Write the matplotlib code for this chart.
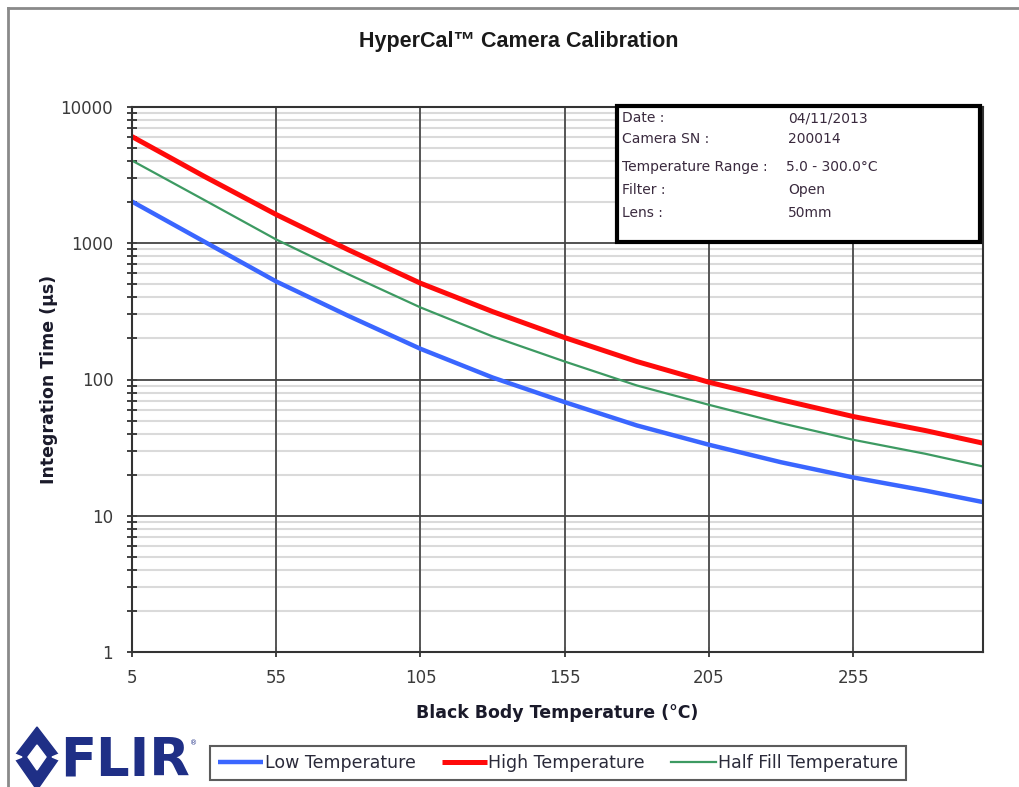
import matplotlib.pyplot as plt
from matplotlib.patches import Polygon, Rectangle
from matplotlib.ticker import LogLocator, FixedLocator, NullFormatter

# black body temperature (deg C)
temp = [5, 30, 55, 80, 105, 130, 155, 180, 205, 230, 255, 280, 300]

# integration time (us) per fill level
low_t = [2023, 1029, 524, 293, 168, 103.4, 68.2, 46, 33.2, 24.7, 19.1, 15.3, 12.6]
high_t = [6067, 3100, 1624, 895, 509, 315, 203, 135.5, 95.5, 71, 53.5, 42.2, 34.1]
half_t = [4045, 2080, 1065, 592, 338, 207, 135.5, 90.4, 65.2, 47.8, 36.1, 28.5, 23.0]

x_ticks = [5, 55, 105, 155, 205, 255]
y_ticks = [1, 10, 100, 1000, 10000]

info_keys = ["Date :", "Camera SN :", "Temperature Range :", "Filter :", "Lens :"]
info_vals = ["04/11/2013", "200014", "5.0 - 300.0°C", "Open", "50mm"]

W, H = 1020, 787
fig = plt.figure(figsize=(W / 100, H / 100), dpi=100)
fig.patch.set_facecolor("white")

ax = fig.add_axes([132 / W, 1 - 652 / H, (983 - 132) / W, (652 - 107) / H])
ax.set_yscale("log")
ax.set_xlim(5, 300)
ax.set_ylim(1, 10000)

l1, = ax.plot(temp, low_t, color="#3a66ff", lw=3.2, solid_capstyle="butt", zorder=3)
l2, = ax.plot(temp, high_t, color="#ff0a0a", lw=3.6, solid_capstyle="butt", zorder=3)
l3, = ax.plot(temp, half_t, color="#3d9a62", lw=1.6, zorder=3)

ax.xaxis.set_major_locator(FixedLocator(x_ticks))
ax.set_xticklabels([str(v) for v in x_ticks])
ax.yaxis.set_major_locator(FixedLocator(y_ticks))
ax.set_yticklabels([str(v) for v in y_ticks])
ax.yaxis.set_minor_locator(LogLocator(base=10, subs=range(2, 10)))
ax.yaxis.set_minor_formatter(NullFormatter())

# light minor lines underneath, major grid drawn on top of them
ax.grid(True, which="minor", axis="y", color="#dadada", lw=1.5, zorder=0)
for xv in x_ticks[1:]:
    ax.axvline(xv, color="#555555", lw=1.4, zorder=1.5)
for yv in y_ticks[1:]:
    ax.axhline(yv, color="#444444", lw=1.3, zorder=1.6)
ax.set_axisbelow(True)

ax.tick_params(axis="both", which="both", direction="inout", color="#222222")
ax.tick_params(axis="y", which="major", length=7, width=1.2, pad=10,
               labelsize=12, labelcolor="#3a3a3a")
ax.tick_params(axis="y", which="minor", length=7, width=1.2)
ax.tick_params(axis="x", which="major", length=7, width=1.2, pad=9,
               labelsize=12, labelcolor="#3a3a3a")
for s in ax.spines.values():
    s.set_color("#333333")
    s.set_linewidth(1.5)
    s.set_zorder(4)

ax.set_xlabel("Black Body Temperature (°C)", fontsize=12.5, fontweight="bold",
              color="#1a1a2a", labelpad=12)
ax.set_ylabel("Integration Time (μs)", fontsize=12.5, fontweight="bold",
              color="#1a1a2a", labelpad=2)

fig.text(519 / W, 1 - 42 / H, "HyperCal™ Camera Calibration", ha="center", va="center",
         fontsize=15.5, fontweight="bold", color="#1a1a1a", family="Liberation Sans")

# overlay in pixel coordinates for frame, info box and logo
ov = fig.add_axes([0, 0, 1, 1], facecolor="none")
ov.set_xlim(0, W)
ov.set_ylim(H, 0)
ov.axis("off")

ov.plot([8, 8], [8, H], color="#8a8a8a", lw=2)
ov.plot([8, W], [8, 8], color="#8a8a8a", lw=2)

ov.add_patch(Rectangle((617, 106), 363, 136, facecolor="white", edgecolor="black", lw=3, zorder=5))
rows_y = [118, 139, 167, 190, 213]
for k, v, yy in zip(info_keys, info_vals, rows_y):
    ov.text(622, yy, k, fontsize=10, color="#3a2a3e", va="center", zorder=6)
    vx = 786 if k.startswith("Temp") else 788
    ov.text(vx, yy, v, fontsize=10, color="#3a2a3e", va="center", zorder=6)

# FLIR logo
navy = "#1f2f86"
ov.add_patch(Polygon([(37, 727), (60, 757), (37, 790), (14, 757)], closed=True, color=navy))
ov.add_patch(Polygon([(37, 745), (46, 757), (37, 770), (28, 757)], closed=True, color="white"))
ov.add_patch(Polygon([(10, 752), (22, 757), (10, 762)], closed=True, color="white"))
ov.add_patch(Polygon([(64, 752), (52, 757), (64, 762)], closed=True, color="white"))
ov.text(60, 760, "FLIR", fontsize=38, fontweight="heavy", color=navy, va="center", ha="left")
ov.text(190, 743, "®", fontsize=5, color=navy, va="center")

leg = fig.legend([l1, l2, l3], ["Low Temperature", "High Temperature", "Half Fill Temperature"],
                 loc="center", bbox_to_anchor=(558 / W, 1 - 763 / H), ncol=3,
                 fontsize=12.5, handlelength=2.6, handletextpad=0.1, columnspacing=1.5,
                 fancybox=False, frameon=True, borderpad=0.45)
leg.get_frame().set_edgecolor("#333333")
leg.get_frame().set_linewidth(1.5)
for t in leg.get_texts():
    t.set_color("#2a2a3a")

fig.savefig("out.png", dpi=100)
